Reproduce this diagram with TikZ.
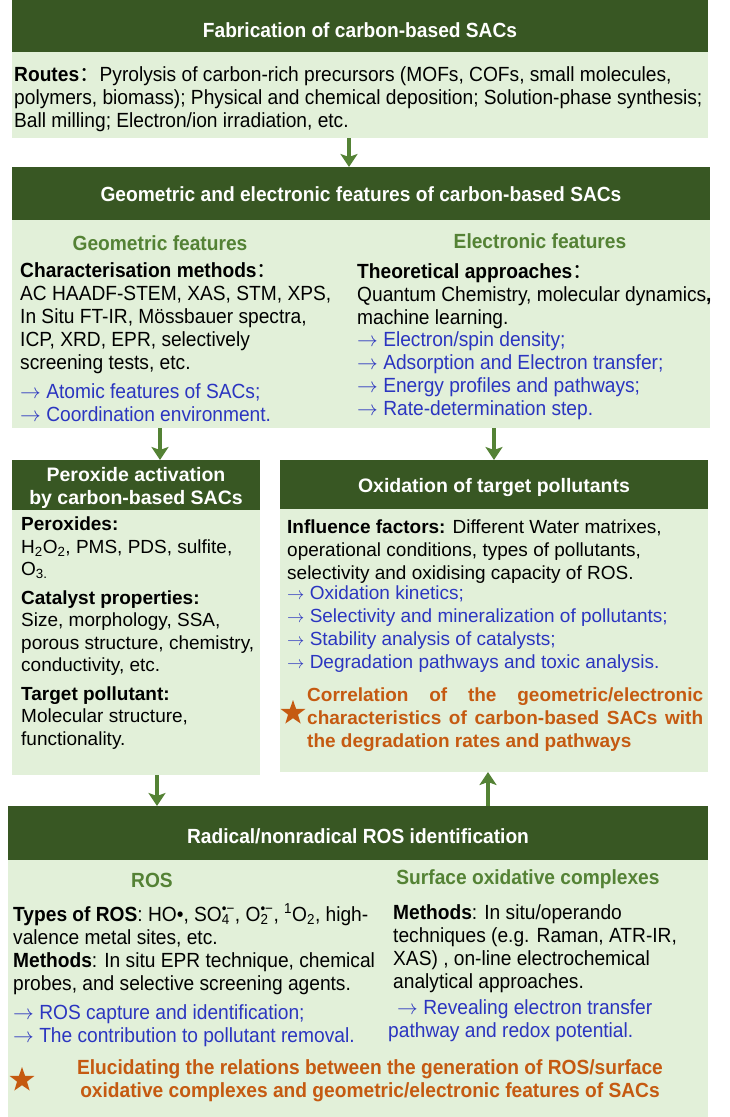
\documentclass[tikz,border=0pt]{standalone}
\usepackage{fontspec}
\setmainfont{Liberation Sans}
\newfontfamily\narrowfont[FakeStretch=0.935]{Liberation Sans}
\newfontfamily\cjkfont{Noto Sans CJK SC}
\usetikzlibrary{arrows.meta,shapes.geometric}

\definecolor{hdrgreen}{HTML}{385723}
\definecolor{bodygreen}{HTML}{E2F0D9}
\definecolor{arrowgreen}{HTML}{548235}
\definecolor{subgreen}{HTML}{548235}
\definecolor{linkblue}{HTML}{2B35C0}
\definecolor{noteorange}{HTML}{C55A11}

\newcommand{\fsz}[2]{\fontsize{#1}{#2}\selectfont}
\newcommand{\fcolon}{{\cjkfont ：}}
\newcommand{\radsub}[1]{\rlap{\textsubscript{#1}}\textsuperscript{•−}}
\newcommand{\goesto}{$\rightarrow$}

\begin{document}
\begin{tikzpicture}[x=1pt, y=-1pt,
  hdr/.style={fill=hdrgreen, anchor=north west, inner sep=0pt, outer sep=0pt},
  bodybox/.style={fill=bodygreen, anchor=north west, inner sep=0pt, outer sep=0pt},
  hdrtext/.style={text=white, inner sep=0pt, font=\narrowfont\bfseries\fsz{20.5}{23}},
  subhead/.style={text=subgreen, inner sep=0pt, font=\narrowfont\bfseries\fsz{20.5}{23}},
  txt/.style={anchor=base west, align=left, inner sep=0pt, font=\narrowfont\fsz{20.5}{23}},
  link/.style={txt, text=linkblue},
  flow/.style={draw=arrowgreen, line width=4pt, -{Stealth[length=13pt, width=17pt, inset=3pt]}},
  starmark/.style={star, star points=5, star point ratio=2.5, fill=noteorange, inner sep=0pt, minimum size=26pt}
]
\useasboundingbox (0,0) rectangle (730,1117);

% --- Fabrication (top box) ---
% (multi-line texts are placed by the baseline of their last line)
\node[hdr, minimum width=696pt, minimum height=52pt] (fabT) at (12,0) {};
\node[bodybox, minimum width=696pt, minimum height=86pt] (fabB) at (12,52) {};
\node[hdrtext] (fabTitle) at (360,30) {Fabrication of carbon-based SACs};
\node[txt] (fabText) at (14,127)
  {\textbf{Routes}\fcolon Pyrolysis of carbon-rich precursors (MOFs, COFs, small molecules,\\
   polymers, biomass); Physical and chemical deposition; Solution-phase synthesis;\\
   Ball milling; Electron/ion irradiation, etc.};

% --- Geometric and electronic features ---
\node[hdr, minimum width=698pt, minimum height=53pt] (geoT) at (12,167) {};
\node[bodybox, minimum width=698pt, minimum height=208pt] (geoB) at (12,220) {};
\node[hdrtext] (geoTitle) at (361,194) {Geometric and electronic features of carbon-based SACs};
\node[subhead] (geoSub) at (160,243) {Geometric features};
\node[txt] (geoText) at (20,369)
  {\textbf{Characterisation methods}\fcolon\\
   AC HAADF-STEM, XAS, STM, XPS,\\
   In Situ FT-IR, Mössbauer spectra,\\
   ICP, XRD, EPR, selectively\\
   screening tests, etc.};
\node[link] (geoOut) at (20,421) {\goesto{} Atomic features of SACs;\\ \goesto{} Coordination environment.};
\node[subhead] (eleSub) at (540,241) {Electronic features};
\node[txt] (eleText) at (357,324)
  {\textbf{Theoretical approaches}\fcolon\\
   Quantum Chemistry, molecular dynamics\textbf{,}\\
   machine learning.};
\node[link] (eleOut) at (357,415)
  {\goesto{} Electron/spin density;\\ \goesto{} Adsorption and Electron transfer;\\
   \goesto{} Energy profiles and pathways;\\ \goesto{} Rate-determination step.};

% --- Peroxide activation ---
\node[hdr, minimum width=248pt, minimum height=50pt] (perT) at (12,460) {};
\node[bodybox, minimum width=248pt, minimum height=265pt] (perB) at (12,510) {};
\node[hdrtext, font=\bfseries\fsz{19.5}{23}, align=center] (perTitle) at (136,488)
  {Peroxide activation\\ by carbon-based SACs};
\node[txt, font=\fsz{19}{22.5}] (perText) at (21,745)
  {\textbf{Peroxides:}\\
   H\textsubscript{2}O\textsubscript{2}, PMS, PDS, sulfite,\\
   O\textsubscript{3.}\\[6pt]
   \textbf{Catalyst properties:}\\
   Size, morphology, SSA,\\
   porous structure, chemistry,\\
   conductivity, etc.\\[6pt]
   \textbf{Target pollutant:}\\
   Molecular structure,\\
   functionality.};

% --- Oxidation of target pollutants ---
\node[hdr, minimum width=428pt, minimum height=49pt] (oxiT) at (280,460) {};
\node[bodybox, minimum width=428pt, minimum height=263pt] (oxiB) at (280,509) {};
\node[hdrtext, font=\bfseries\fsz{19.5}{23}] (oxiTitle) at (494,487) {Oxidation of target pollutants};
\node[txt, font=\fsz{19}{23}] (oxiText) at (287,579)
  {\textbf{Influence factors:} Different Water matrixes,\\
   operational conditions, types of pollutants,\\
   selectivity and oxidising capacity of ROS.};
\node[link, font=\fsz{19}{23}] (oxiOut) at (287,668)
  {\goesto{} Oxidation kinetics;\\ \goesto{} Selectivity and mineralization of pollutants;\\
   \goesto{} Stability analysis of catalysts;\\ \goesto{} Degradation pathways and toxic analysis.};
\node[starmark] (oxiStar) at (293,713) {};
\node[anchor=base west, inner sep=0pt, text width=396pt, align=justify,
      font=\bfseries\fsz{19}{23}, text=noteorange] (oxiNote) at (307,701)
  {Correlation of the geometric/electronic\linebreak
   characteristics of carbon-based SACs with\linebreak
   the degradation rates and pathways};

% --- Radical/nonradical ROS identification ---
\node[hdr, minimum width=700pt, minimum height=54pt] (rosT) at (8,806) {};
\node[bodybox, minimum width=700pt, minimum height=257pt] (rosB) at (8,860) {};
\node[hdrtext] (rosTitle) at (358,836) {Radical/nonradical ROS identification};
\node[subhead] (rosSub) at (152,880) {ROS};
\node[txt] (rosText) at (13,990)
  {\textbf{Types of ROS}: HO•, SO\radsub{4}, O\radsub{2}, \textsuperscript{1}O\textsubscript{2}, high-\\
   valence metal sites, etc.\\
   \textbf{Methods}: In situ EPR technique, chemical\\
   probes, and selective screening agents.};
\node[link] (rosOut) at (13,1042)
  {\goesto{} ROS capture and identification;\\ \goesto{} The contribution to pollutant removal.};
\node[subhead] (sfcSub) at (528,879) {Surface oxidative complexes};
\node[txt] (sfcText) at (393,988)
  {\textbf{Methods}: In situ/operando\\
   techniques (e.g. Raman, ATR-IR,\\
   XAS) , on-line electrochemical\\
   analytical approaches.};
\node[link] (sfcOut) at (388,1037)
  {\hspace*{9pt}\goesto{} Revealing electron transfer\\ pathway and redox potential.};
\node[starmark] (rosStar) at (22,1080) {};
\node[inner sep=0pt, align=center, font=\narrowfont\bfseries\fsz{20.5}{23}, text=noteorange] (rosNote) at (370,1081)
  {Elucidating the relations between the generation of ROS/surface\\
   oxidative complexes and geometric/electronic features of SACs};

% --- arrows ---
\coordinate (geoIn) at ([xshift=-12pt]geoT.north);
\draw[flow] (geoIn |- fabB.south) -- (geoIn);
\coordinate (perIn) at ([xshift=24pt]perT.north);
\draw[flow] (perIn |- geoB.south) -- (perIn);
\draw[flow] (oxiT.north |- geoB.south) -- (oxiT.north);
\coordinate (rosIn) at ([xshift=21pt]perB.south);
\draw[flow] (rosIn) -- (rosIn |- rosT.north);
\coordinate (oxiIn) at ([xshift=-6pt]oxiB.south);
\draw[flow] (oxiIn |- rosT.north) -- (oxiIn);

\end{tikzpicture}
\end{document}
